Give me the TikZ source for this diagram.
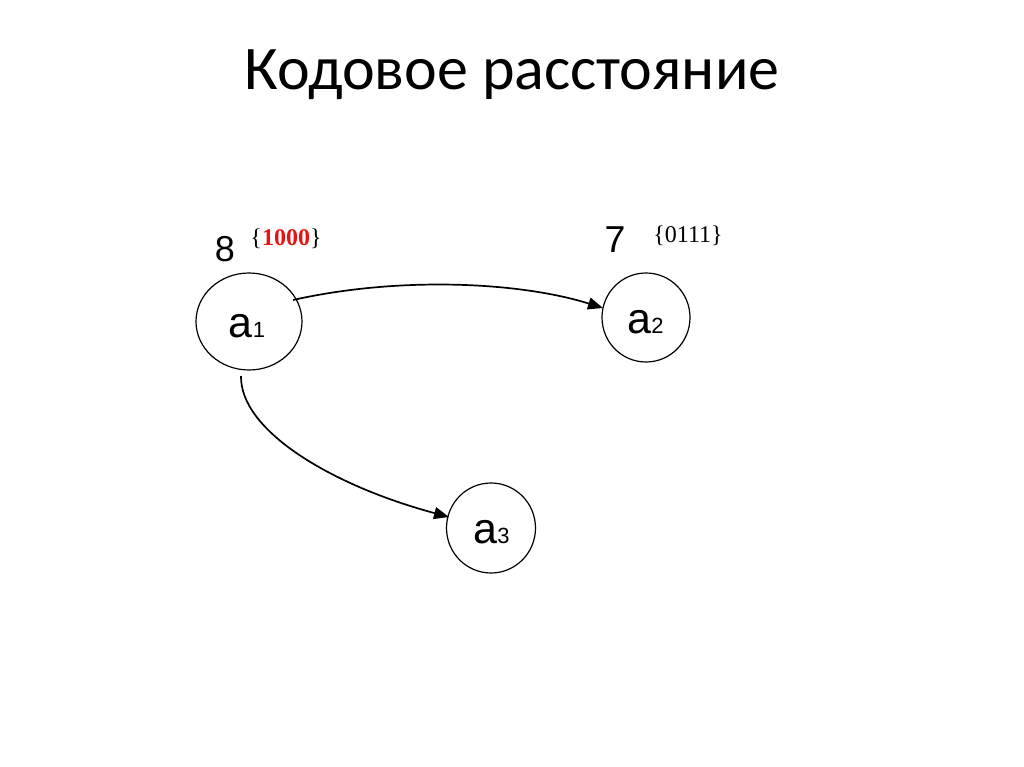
\documentclass[tikz,border=0pt]{standalone}
\usepackage{fontspec}
\setmainfont{Carlito}
\newfontfamily\arialf{Liberation Sans}
\newfontfamily\timesf{Liberation Serif}
\usetikzlibrary{arrows.meta,shapes.geometric}
\definecolor{codered}{RGB}{230,20,20}
\newcommand{\vname}[2]{{\fontsize{43}{43}\selectfont #1\fontsize{22}{22}\selectfont #2}}
\begin{document}
\begin{tikzpicture}[x=1pt,y=-1pt,
  vertex/.style={draw, line width=1.2pt, ellipse, inner sep=0pt},
  vtext/.style={font=\arialf, inner sep=0pt, anchor=base},
  conn/.style={line width=1.7pt, -{Triangle[length=15pt,width=12pt]}},
  numlbl/.style={inner sep=0pt, anchor=base},
  codelbl/.style={font=\timesf\fontsize{24}{24}\selectfont, inner sep=0pt, anchor=base}]
\useasboundingbox[fill=white] (0,0) rectangle (1024,767);
\node[font=\fontsize{62}{62}\selectfont, inner sep=0pt, anchor=base] (title) at (512,90) {Кодовое расстояние};
\node[vertex, minimum width=106pt, minimum height=97pt] (a1) at (249,321.5) {};
\node[vertex, minimum width=88pt, minimum height=89pt] (a2) at (646,317.5) {};
\node[vertex, minimum width=89pt, minimum height=90pt] (a3) at (491,528) {};
\node[vtext] (t1) at (247,337) {\vname{a}{1}};
\node[vtext] (t2) at (645.5,333) {\vname{a}{2}};
\node[vtext] (t3) at (491.5,543) {\vname{a}{3}};
\node[numlbl, font=\arialf\fontsize{36}{36}\selectfont] (n8) at (225,261) {8};
\node[numlbl, font=\arialf\fontsize{37.5}{37.5}\selectfont] (n7) at (615,252) {7};
\node[codelbl] (c1) at (286,245) {\{\textcolor{codered}{\textbf{1000}}\}};
\node[codelbl] (c2) at (688,243) {\{0111\}};
\coordinate (s1) at (293,300);
\coordinate (e1) at (603,308);
\coordinate (s2) at (241,376);
\coordinate (e2) at (449,517);
\draw[conn] (s1) .. controls (400,276) and (520,282) .. (e1);
\draw[conn] (s2) .. controls (240,430) and (330,485) .. (e2);
\end{tikzpicture}
\end{document}
